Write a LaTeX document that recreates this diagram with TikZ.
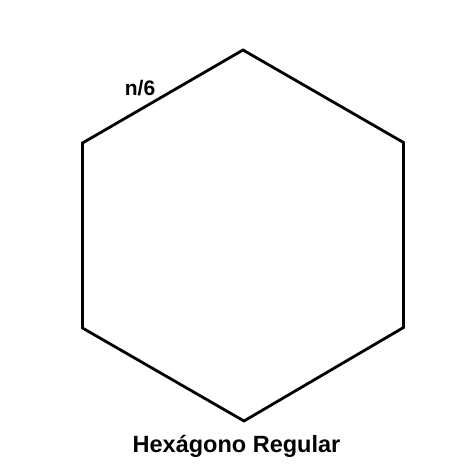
\documentclass[tikz,border=0pt]{standalone}
\usepackage{fontspec}
\setmainfont{Liberation Sans}
\begin{document}
\begin{tikzpicture}[x=1pt,y=-1pt,
  edge/.style={line width=2.8pt,line join=miter},
  lbl/.style={font=\fontsize{21}{24}\selectfont\bfseries,inner sep=0pt,anchor=base},
  title/.style={font=\fontsize{23.5}{26}\selectfont\bfseries,inner sep=0pt,anchor=base}]
\useasboundingbox (0,0) rectangle (456,466);
\coordinate (t) at (243,50);
\coordinate (ur) at (403.5,142.5);
\coordinate (lr) at (403.5,327.5);
\coordinate (b) at (244,421);
\coordinate (ll) at (82.5,328);
\coordinate (ul) at (82.5,143);
\draw[edge] (t) -- (ur) -- (lr) -- (b) -- (ll) -- (ul) -- cycle;
\node[lbl] (n) at (140,95) {n/6};
\node[title] (ttl) at (236.5,452) {Hexágono Regular};
\end{tikzpicture}
\end{document}
